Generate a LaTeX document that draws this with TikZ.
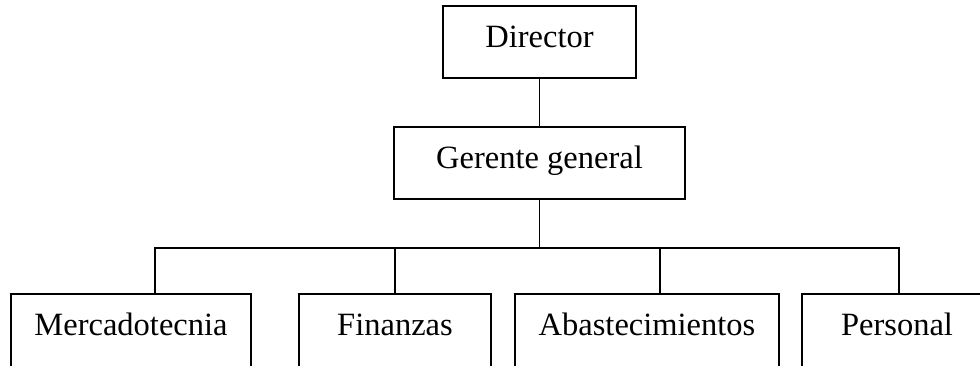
\documentclass[tikz,border=0pt]{standalone}
\usepackage{fontspec}
\setmainfont{Liberation Serif}
\begin{document}
\begin{tikzpicture}[x=1pt,y=-1pt,
  line width=1.8pt,
  orgbox/.style={draw, rectangle, inner xsep=0pt, inner ysep=0pt,
    text height=41.5pt, text depth=30.5pt,
    font=\fontsize{32.5}{36}\selectfont},
  unitbox/.style={orgbox, anchor=north, text depth=110pt}]
\useasboundingbox (0,0) rectangle (980,365);
\clip (0,0) rectangle (980,365);

% top of the chart
\node[orgbox, anchor=north, minimum width=193pt] (dir) at (539.5,5) {Director};
\node[orgbox, anchor=north, minimum width=291pt] (gg) at (539.5,126) {Gerente general};

% departments, open at the foot of the page
\node[unitbox, minimum width=240pt] (mer) at (131,293) {Mercadotecnia};
\node[unitbox, minimum width=192pt] (fin) at (395,293) {Finanzas};
\node[unitbox, minimum width=264pt] (aba) at (647,293) {Abastecimientos};
\node[unitbox, minimum width=190pt] (per) at (897,293) {Personal};

% connectors
\coordinate (bus) at (0,248);
\draw (dir.south) -- (gg.north);
\draw (gg.south) -- (gg.south |- bus);
\draw ([xshift=24pt]mer.north) -- ([xshift=24pt]mer.north |- bus)
      -- ([xshift=2pt]per.north |- bus) -- ([xshift=2pt]per.north);
\draw (fin.north) -- (fin.north |- bus);
\draw ([xshift=13pt]aba.north) -- ([xshift=13pt]aba.north |- bus);
\end{tikzpicture}
\end{document}
